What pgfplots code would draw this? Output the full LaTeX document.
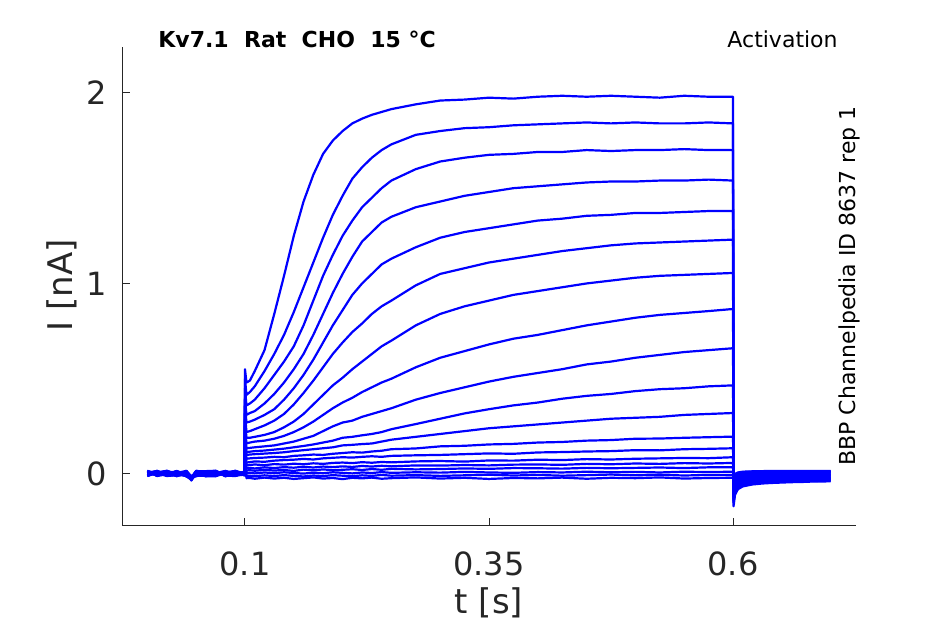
\documentclass[border=0pt]{standalone}
\usepackage{pgfplots}
\pgfplotsset{compat=1.18}
\usepackage{pgfplotstable}
\usepackage{fontspec}
\setmainfont{DejaVu Sans}
\definecolor{axgray}{RGB}{38,38,38}
\definecolor{trace}{RGB}{0,0,255}
\pgfplotstableread{
name c1 c2 c3 c4 c5 c6 c7 c8 c9 c10 c11 c12 c13 c14 c15 c16 c17 c18 c19 c20 c21 c22 c23 c24 c25 c26 c27 c28 c29 c30 c31 c32 c33 c34 c35 c36 c37 c38 c39 c40 c41 c42 c43 c44 c45 c46 c47 c48 c49 c50 c51 c52 c53 c54 c55 c56 c57
t 0 0.01 0.02 0.03 0.04 0.045 0.05 0.06 0.07 0.08 0.09 0.0995 0.1 0.1015 0.105 0.11 0.12 0.13 0.14 0.15 0.16 0.17 0.18 0.19 0.2 0.21 0.22 0.23 0.24 0.25 0.275 0.3 0.325 0.35 0.375 0.4 0.425 0.45 0.475 0.5 0.525 0.55 0.575 0.6 0.6005 0.602 0.605 0.61 0.62 0.63 0.64 0.65 0.66 0.67 0.68 0.69 0.7
T1 0.012 -0.008 0.015 -0.005 0.008 -0.022 0.013 -0.009 0.016 -0.004 0.010 0.004 0.55 0.48 0.49 0.54 0.65 0.84 1.04 1.25 1.43 1.57 1.68 1.75 1.80 1.84 1.865 1.885 1.90 1.915 1.94 1.96 1.965 1.975 1.97 1.98 1.985 1.98 1.985 1.98 1.975 1.985 1.98 1.98 -0.17 -0.11 -0.08 -0.065 -0.055 -0.05 -0.047 -0.045 -0.043 -0.042 -0.04 -0.04 -0.038
T2 -0.006 0.014 -0.009 0.012 -0.012 -0.030 0.006 0.015 -0.008 0.011 -0.010 0.008 0.50 0.415 0.43 0.46 0.54 0.63 0.73 0.85 0.98 1.11 1.24 1.36 1.46 1.55 1.61 1.66 1.70 1.73 1.78 1.80 1.815 1.82 1.83 1.835 1.84 1.845 1.84 1.845 1.84 1.84 1.845 1.84 -0.15 -0.10 -0.075 -0.06 -0.05 -0.046 -0.043 -0.041 -0.04 -0.038 -0.037 -0.036 -0.035
T3 0.015 0.004 -0.010 -0.007 0.017 -0.015 -0.008 0.008 0.014 -0.011 0.006 -0.004 0.45 0.36 0.37 0.39 0.45 0.52 0.59 0.67 0.78 0.91 1.04 1.15 1.25 1.33 1.40 1.45 1.50 1.54 1.60 1.64 1.66 1.675 1.68 1.69 1.69 1.70 1.695 1.70 1.70 1.705 1.70 1.70 -0.14 -0.09 -0.07 -0.055 -0.046 -0.042 -0.04 -0.038 -0.036 -0.035 -0.034 -0.033 -0.033
T4 0.002 0.016 -0.004 0.015 -0.009 -0.026 0.014 -0.012 0.004 0.016 -0.006 0.010 0.40 0.31 0.32 0.33 0.37 0.42 0.48 0.55 0.63 0.73 0.84 0.95 1.05 1.14 1.22 1.27 1.32 1.35 1.40 1.43 1.46 1.48 1.50 1.51 1.52 1.53 1.535 1.535 1.54 1.54 1.545 1.54 -0.13 -0.085 -0.065 -0.05 -0.042 -0.039 -0.036 -0.034 -0.033 -0.032 -0.031 -0.03 -0.03
T5 -0.009 0.008 0.017 -0.003 0.011 -0.012 -0.012 0.004 -0.010 0.008 0.016 -0.002 0.36 0.27 0.275 0.285 0.31 0.34 0.39 0.45 0.52 0.60 0.69 0.78 0.86 0.94 1.00 1.05 1.10 1.13 1.19 1.24 1.27 1.29 1.31 1.33 1.34 1.355 1.36 1.37 1.37 1.375 1.38 1.38 -0.12 -0.08 -0.06 -0.046 -0.039 -0.035 -0.033 -0.031 -0.03 -0.029 -0.028 -0.027 -0.027
T6 0.016 -0.010 0.006 -0.008 0.014 -0.034 0.004 0.013 0.011 -0.008 -0.011 0.009 0.32 0.22 0.225 0.235 0.255 0.28 0.315 0.365 0.425 0.49 0.56 0.63 0.69 0.745 0.79 0.84 0.88 0.91 0.99 1.05 1.08 1.11 1.13 1.15 1.17 1.185 1.20 1.21 1.215 1.22 1.225 1.23 -0.11 -0.072 -0.054 -0.042 -0.035 -0.032 -0.03 -0.028 -0.027 -0.026 -0.025 -0.025 -0.024
T7 0.006 0.016 -0.008 0.013 -0.013 -0.018 0.015 -0.009 -0.005 0.002 0.013 -0.005 0.28 0.19 0.19 0.195 0.205 0.22 0.245 0.275 0.315 0.365 0.415 0.465 0.505 0.55 0.59 0.63 0.67 0.70 0.78 0.84 0.88 0.91 0.94 0.96 0.98 1.00 1.015 1.03 1.04 1.045 1.05 1.055 -0.10 -0.065 -0.048 -0.037 -0.031 -0.028 -0.026 -0.024 -0.023 -0.022 -0.022 -0.021 -0.021
T8 -0.010 0.004 0.013 -0.012 0.008 -0.024 0.010 0.015 0.017 -0.011 0.010 0.006 0.25 0.16 0.165 0.17 0.175 0.185 0.20 0.22 0.245 0.275 0.31 0.345 0.375 0.40 0.43 0.455 0.48 0.50 0.56 0.61 0.645 0.68 0.71 0.73 0.755 0.78 0.80 0.82 0.835 0.845 0.855 0.866 -0.09 -0.058 -0.043 -0.033 -0.027 -0.024 -0.022 -0.021 -0.02 -0.019 -0.019 -0.018 -0.018
T9 0.012 -0.007 0.016 0.002 -0.011 -0.010 -0.005 -0.004 -0.009 0.014 -0.003 0.013 0.22 0.135 0.137 0.14 0.145 0.15 0.16 0.17 0.185 0.20 0.225 0.25 0.27 0.28 0.30 0.315 0.33 0.345 0.39 0.425 0.455 0.485 0.51 0.53 0.55 0.575 0.59 0.61 0.625 0.64 0.65 0.66 -0.08 -0.05 -0.037 -0.028 -0.023 -0.02 -0.018 -0.017 -0.016 -0.016 -0.015 -0.015 -0.015
T10 -0.003 0.014 -0.010 0.010 0.002 -0.028 0.016 0.012 0.013 -0.007 0.015 -0.003 0.20 0.115 0.117 0.12 0.123 0.128 0.133 0.14 0.147 0.155 0.165 0.175 0.19 0.195 0.203 0.21 0.22 0.235 0.262 0.29 0.318 0.34 0.36 0.375 0.395 0.41 0.42 0.435 0.445 0.45 0.46 0.465 -0.07 -0.043 -0.031 -0.023 -0.018 -0.016 -0.014 -0.013 -0.012 -0.012 -0.011 -0.011 -0.011
T11 0.015 -0.011 0.004 -0.008 0.013 -0.020 -0.003 -0.012 -0.012 0.016 -0.008 0.008 0.18 0.10 0.102 0.104 0.107 0.11 0.114 0.12 0.125 0.13 0.135 0.14 0.15 0.153 0.157 0.16 0.17 0.18 0.195 0.21 0.225 0.24 0.25 0.26 0.27 0.28 0.29 0.295 0.30 0.31 0.315 0.32 -0.06 -0.036 -0.026 -0.018 -0.014 -0.012 -0.01 -0.009 -0.008 -0.008 -0.008 -0.007 -0.007
T12 -0.007 0.012 -0.004 0.016 -0.008 -0.031 0.010 0.013 0.004 0.013 0.008 -0.007 0.16 0.08 0.082 0.084 0.086 0.09 0.088 0.095 0.098 0.102 0.10 0.106 0.11 0.114 0.112 0.118 0.122 0.13 0.134 0.145 0.148 0.155 0.158 0.165 0.168 0.175 0.178 0.185 0.186 0.19 0.193 0.196 -0.05 -0.03 -0.02 -0.013 -0.01 -0.008 -0.006 -0.005 -0.005 -0.004 -0.004 -0.004 -0.004
T13 0.008 -0.002 0.015 -0.010 0.006 -0.014 -0.011 0.000 0.010 -0.004 0.017 0.002 0.14 0.06 0.062 0.066 0.064 0.07 0.073 0.075 0.079 0.076 0.082 0.085 0.088 0.086 0.09 0.093 0.09 0.095 0.098 0.10 0.104 0.108 0.106 0.113 0.115 0.118 0.12 0.125 0.124 0.13 0.132 0.135 -0.045 -0.025 -0.015 -0.009 -0.006 -0.004 -0.003 -0.002 -0.001 -0.001 0.0 0.0 0.0
T14 -0.011 0.010 0.012 0.004 -0.012 -0.027 0.014 0.015 -0.008 0.015 -0.005 0.012 0.12 0.045 0.047 0.05 0.046 0.052 0.049 0.054 0.051 0.056 0.053 0.058 0.06 0.057 0.062 0.059 0.063 0.061 0.066 0.068 0.065 0.071 0.07 0.075 0.073 0.078 0.076 0.08 0.082 0.084 0.083 0.088 -0.04 -0.02 -0.01 -0.005 -0.002 0.0 0.001 0.002 0.002 0.003 0.003 0.003 0.003
T15 0.013 -0.009 -0.003 0.015 0.000 -0.016 -0.008 -0.010 0.016 -0.010 0.004 -0.004 0.10 0.03 0.032 0.029 0.035 0.031 0.036 0.033 0.038 0.034 0.039 0.036 0.04 0.037 0.042 0.039 0.043 0.04 0.045 0.044 0.047 0.045 0.049 0.05 0.048 0.053 0.051 0.055 0.053 0.057 0.055 0.058 -0.035 -0.015 -0.006 -0.001 0.002 0.004 0.005 0.005 0.006 0.006 0.006 0.007 0.007
T16 0.002 0.016 -0.011 -0.005 0.014 -0.033 0.006 0.008 0.008 0.012 -0.010 0.004 0.09 0.018 0.02 0.017 0.022 0.018 0.021 0.016 0.023 0.019 0.024 0.02 0.022 0.025 0.021 0.026 0.022 0.027 0.024 0.026 0.029 0.027 0.031 0.03 0.028 0.032 0.03 0.032 0.034 0.031 0.035 0.035 -0.03 -0.01 -0.002 0.003 0.006 0.007 0.008 0.008 0.009 0.009 0.009 0.01 0.01
T17 -0.004 0.006 0.014 -0.009 -0.005 -0.019 0.017 0.004 -0.011 0.004 0.015 -0.008 0.08 0.005 0.006 0.003 0.008 0.004 0.009 0.005 0.002 0.007 0.004 0.009 0.006 0.003 0.008 0.005 0.01 0.006 0.009 0.007 0.011 0.008 0.006 0.01 0.008 0.012 0.009 0.011 0.008 0.012 0.01 0.012 -0.025 -0.006 0.002 0.007 0.009 0.01 0.011 0.011 0.012 0.012 0.012 0.012 0.012
T18 0.017 -0.005 0.008 0.012 -0.010 -0.025 -0.009 -0.008 0.013 -0.012 0.002 0.008 0.07 -0.01 -0.009 -0.012 -0.007 -0.011 -0.006 -0.01 -0.013 -0.008 -0.011 -0.006 -0.009 -0.012 -0.007 -0.01 -0.005 -0.009 -0.006 -0.01 -0.007 -0.004 -0.008 -0.005 -0.009 -0.006 -0.003 -0.007 -0.004 -0.008 -0.005 -0.005 -0.02 -0.003 0.005 0.01 0.012 0.013 0.014 0.014 0.014 0.015 0.015 0.015 0.015
T19 -0.009 0.014 -0.006 0.006 0.016 -0.013 0.002 -0.008 0.006 0.010 -0.009 -0.003 0.06 -0.022 -0.021 -0.025 -0.019 -0.024 -0.02 -0.026 -0.022 -0.018 -0.024 -0.021 -0.027 -0.02 -0.023 -0.019 -0.025 -0.022 -0.018 -0.024 -0.02 -0.026 -0.021 -0.023 -0.019 -0.025 -0.02 -0.022 -0.018 -0.024 -0.021 -0.02 -0.015 0.0 0.008 0.012 0.014 0.015 0.016 0.016 0.016 0.016 0.016 0.016 0.016
}\raw
\pgfplotstabletranspose[colnames from=name]\data\raw

\begin{document}
\begin{tikzpicture}
\useasboundingbox (0,0) rectangle (472.5pt,312pt);
\begin{axis}[
  at={(61pt,49pt)}, anchor=south west,
  scale only axis, width=367pt, height=239.5pt,
  xmin=-0.026, xmax=0.726, ymin=-0.273, ymax=2.241,
  axis x line*=bottom, axis y line*=left,
  axis line style={axgray, line width=0.5pt, -},
  xtick={0.1,0.35,0.6}, xticklabels={0.1,0.35,0.6},
  ytick={0,1,2}, yticklabels={0,1,2},
  tick align=inside, major tick length=4pt,
  tick style={axgray, line width=0.5pt},
  xticklabel style={anchor=center, yshift=-19pt, font=\fontsize{16}{16}\selectfont, text=axgray},
  yticklabel style={anchor=center, xshift=-12.5pt, font=\fontsize{16}{16}\selectfont, text=axgray},
]
\pgfplotsinvokeforeach{1,...,19}{
  \addplot[trace, line width=1.1pt, line join=round, mark=none] table[x=t, y=T#1]{\data};
}
\end{axis}
\node[anchor=west, inner sep=0pt, font=\fontsize{11}{11}\selectfont\bfseries] at (79pt,292.5pt) {Kv7.1\ \ Rat\ \ CHO\ \ 15 °C};
\node[anchor=east, inner sep=0pt, font=\fontsize{11}{11}\selectfont] at (419pt,292.5pt) {Activation};
\node[rotate=90, inner sep=0pt, font=\fontsize{11}{11}\selectfont] at (424.5pt,169pt) {BBP Channelpedia ID 8637 rep 1};
\node[inner sep=0pt, font=\fontsize{17}{17}\selectfont, text=axgray] at (244.5pt,10.5pt) {t [s]};
\node[rotate=90, inner sep=0pt, font=\fontsize{17}{17}\selectfont, text=axgray] at (31pt,169.5pt) {I [nA]};
\end{tikzpicture}
\end{document}
